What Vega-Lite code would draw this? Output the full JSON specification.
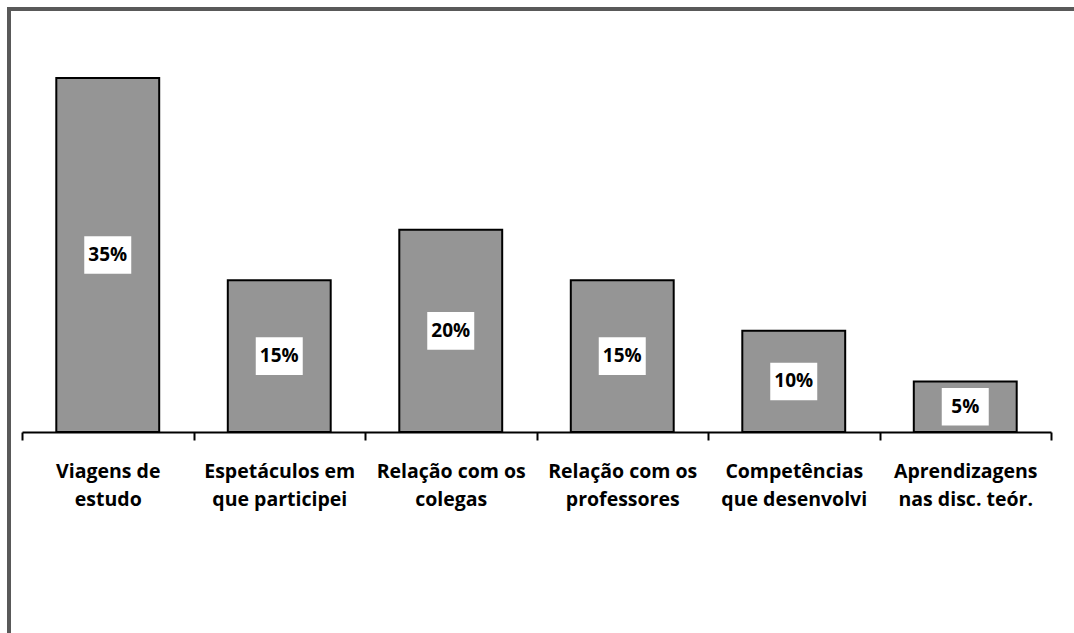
{
  "$schema": "https://vega.github.io/schema/vega-lite/v6.json",
  "width": 1075,
  "height": 634,
  "autosize": "none",
  "padding": {"left": 9, "top": 9, "right": -10, "bottom": -10},
  "background": "white",
  "config": {"view": {"stroke": "#595959", "strokeWidth": 4}, "font": "Open Sans"},
  "data": {"values": [
    {"category": "Viagens de|estudo", "value": 35, "label": "35%"},
    {"category": "Espetáculos em|que participei", "value": 15, "label": "15%"},
    {"category": "Relação com os|colegas", "value": 20, "label": "20%"},
    {"category": "Relação com os|professores", "value": 15, "label": "15%"},
    {"category": "Competências|que desenvolvi", "value": 10, "label": "10%"},
    {"category": "Aprendizagens|nas disc.  teór.", "value": 5, "label": "5%"}
  ]},
  "encoding": {
    "x": {
      "field": "category", "type": "nominal", "sort": null,
      "scale": {"range": [13, 1042], "paddingInner": 0, "paddingOuter": 0},
      "axis": {
        "title": null, "orient": "bottom", "offset": -211, "tickBand": "extent",
        "domainColor": "black", "domainWidth": 2, "tickColor": "black", "tickWidth": 2, "tickSize": 8,
        "labelAngle": 0, "labelExpr": "split(datum.label, '|')", "labelFont": "Open Sans", "labelFontSize": 19.5,
        "labelFontWeight": "bold", "labelColor": "black", "labelPadding": 22, "labelLineHeight": 28,
        "labelBaseline": "top", "labelOverlap": false, "labelLimit": 300, "grid": false
      }
    }
  },
  "layer": [
    {
      "mark": {"type": "bar", "fill": "#959595", "stroke": "black", "strokeWidth": 2, "width": {"band": 0.6}},
      "encoding": {"y": {"field": "value", "type": "quantitative", "scale": {"domain": [0, 35], "range": [423, 69], "nice": false, "zero": true}, "axis": null}}
    },
    {
      "transform": [{"calculate": "datum.value / 2", "as": "mid"}],
      "mark": {"type": "point", "shape": "M-1,-0.8L1,-0.8L1,0.8L-1,0.8Z", "filled": true, "fill": "white", "opacity": 1, "strokeWidth": 0, "size": 2209},
      "encoding": {"y": {"field": "mid", "type": "quantitative", "scale": {"domain": [0, 35], "range": [423, 69], "nice": false, "zero": true}, "axis": null}}
    },
    {
      "transform": [{"calculate": "datum.value / 2", "as": "mid"}],
      "mark": {"type": "text", "font": "Open Sans", "fontSize": 19, "fontWeight": "bold", "color": "black", "baseline": "middle"},
      "encoding": {
        "y": {"field": "mid", "type": "quantitative", "scale": {"domain": [0, 35], "range": [423, 69], "nice": false, "zero": true}, "axis": null},
        "text": {"field": "label"}
      }
    }
  ]
}
